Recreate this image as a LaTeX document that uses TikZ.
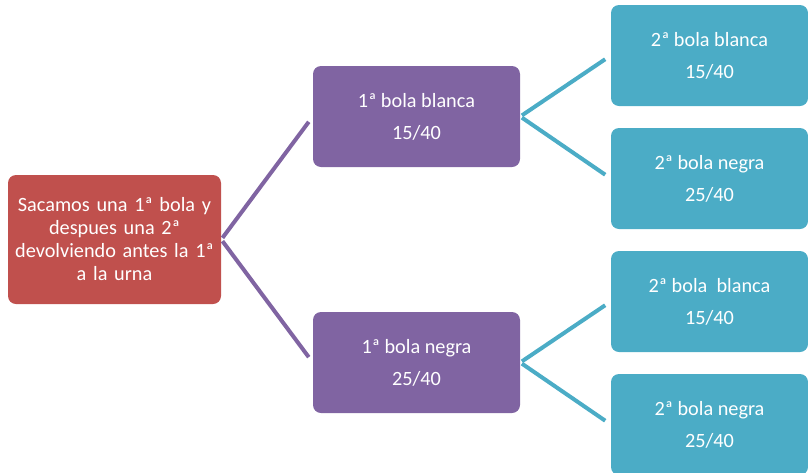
\documentclass[tikz,border=0pt]{standalone}
\usepackage{fontspec}
\setmainfont{Carlito}
\usetikzlibrary{positioning, calc}

\definecolor{rootred}{HTML}{C0504D}
\definecolor{levelpurple}{HTML}{8064A2}
\definecolor{leafteal}{HTML}{4BACC6}

\begin{document}
\begin{tikzpicture}[
    x=0.75pt, y=-0.75pt,
    rootbox/.style={
        rectangle, rounded corners=6pt, fill=rootred, text=white,
        minimum width=159.75pt, minimum height=96.75pt, text width=158pt,
        align=center, font=\fontsize{15.2}{17.25}\selectfont, inner sep=0pt
    },
    midbox/.style={
        rectangle, rounded corners=6pt, fill=levelpurple, text=white,
        minimum width=155.25pt, minimum height=75.75pt,
        align=center, font=\fontsize{15.2}{17.25}\selectfont
    },
    leafbox/.style={
        rectangle, rounded corners=6pt, fill=leafteal, text=white,
        minimum width=147.75pt, minimum height=75.75pt,
        align=center, font=\fontsize{15.2}{17.25}\selectfont
    },
    link/.style={line width=3pt, shorten <=1.5pt, shorten >=5pt}
]
\useasboundingbox (0,0) rectangle (808,472);

\node[rootbox] (root) at (114.5,239.5) {Sacamos una 1ª bola y\\despues una 2ª\\devolviendo antes la 1ª\\a la urna};

\node[midbox] (blanca1) at (416.5,116.5) {1ª bola blanca\\[6.75pt]15/40};
\node[midbox] (negra1) at (416.5,362.5) {1ª bola negra\\[6.75pt]25/40};

\node[leafbox] (bb) at (709.5,55.5) {2ª bola blanca\\[6.75pt]15/40};
\node[leafbox] (bn) at (709.5,178.5) {2ª bola negra\\[6.75pt]25/40};
\node[leafbox] (nb) at (709.5,301.5) {2ª bola\ \ blanca\\[6.75pt]15/40};
\node[leafbox] (nn) at (709.5,424.5) {2ª bola negra\\[6.75pt]25/40};

% first draw
\draw[link, levelpurple] (root.east) -- (blanca1.west);
\draw[link, levelpurple] (root.east) -- (negra1.west);

% second draw
\draw[link, leafteal] (blanca1.east) -- (bb.west);
\draw[link, leafteal] (blanca1.east) -- (bn.west);
\draw[link, leafteal] (negra1.east) -- (nb.west);
\draw[link, leafteal] (negra1.east) -- (nn.west);

\end{tikzpicture}
\end{document}
